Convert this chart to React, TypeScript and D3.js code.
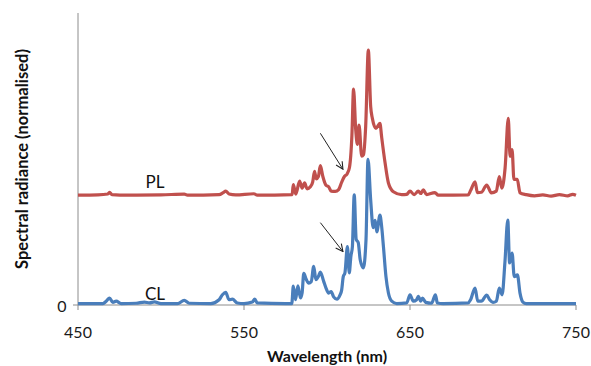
import React from "react";
import * as d3 from "d3";

// Wavelength (nm), normalised spectral radiance — cathodoluminescence (CL)
const CL: [number, number][] = [
  [450, 0.005], [465, 0.005], [467, 0.013], [469, 0.024], [471, 0.009], [473, 0.013], [476, 0.005],
  [485, 0.006], [490, 0.01], [493, 0.007], [496, 0.011], [500, 0.005], [510, 0.005], [514, 0.016],
  [517, 0.006], [530, 0.005], [535, 0.018], [537, 0.035], [539, 0.043], [541, 0.018], [543, 0.02],
  [546, 0.007], [550, 0.005], [555, 0.01], [556.5, 0.02], [558, 0.007], [575, 0.005], [578.8, 0.005],
  [579.7, 0.065], [581, 0.018], [582.5, 0.066], [584, 0.024], [585, 0.041], [586, 0.108], [587.4, 0.089],
  [589, 0.075], [590.5, 0.08], [592, 0.132], [593.3, 0.087], [595, 0.1], [596, 0.113], [598, 0.081],
  [599.4, 0.058], [601, 0.041], [602.5, 0.046], [604, 0.028], [606, 0.02], [607.8, 0.034], [608.8, 0.05],
  [609.8, 0.097], [610.8, 0.11], [612.3, 0.2], [613.4, 0.11], [614.4, 0.167], [615.3, 0.2], [616.4, 0.377],
  [617.6, 0.224], [618.8, 0.214], [620, 0.155], [621.9, 0.127], [623.5, 0.224], [624.7, 0.499],
  [626.3, 0.361], [627.8, 0.265], [629, 0.29], [630, 0.25], [631.9, 0.308], [632.9, 0.27], [634, 0.2],
  [635.5, 0.098], [637, 0.041], [639, 0.013], [642, 0.005], [648, 0.007], [650, 0.035], [652, 0.013],
  [654, 0.018], [655, 0.03], [656.5, 0.013], [657.5, 0.024], [659.5, 0.009], [663, 0.006], [665.3, 0.035],
  [666.5, 0.007], [670, 0.005], [685, 0.007], [686.5, 0.018], [689.2, 0.058], [690.8, 0.013], [693, 0.013],
  [696.2, 0.034], [698, 0.018], [700, 0.009], [702, 0.013], [703.8, 0.058], [705.5, 0.035], [707.2, 0.148],
  [708.9, 0.291], [710, 0.144], [711.5, 0.178], [712.8, 0.097], [714.7, 0.103], [716.3, 0.04], [718, 0.01],
  [720, 0.005], [750, 0.005],
];

// Photoluminescence (PL), drawn offset above CL
const PL: [number, number][] = [
  [450, 0.376], [462, 0.377], [468, 0.38], [469, 0.386], [470.5, 0.378], [480, 0.376], [500, 0.377],
  [514, 0.38], [516, 0.376], [535, 0.378], [537.5, 0.385], [539, 0.39], [541, 0.38], [545, 0.377],
  [556, 0.381], [558, 0.376], [579, 0.378], [579.7, 0.412], [581.2, 0.38], [583.5, 0.424], [585, 0.4],
  [586.5, 0.418], [588, 0.398], [590, 0.405], [591.4, 0.422], [592.5, 0.458], [593.5, 0.432],
  [594.8, 0.44], [596, 0.477], [597.5, 0.44], [599.4, 0.41], [601, 0.405], [602.5, 0.39], [605, 0.389],
  [607, 0.395], [608.8, 0.42], [610.5, 0.44], [612, 0.448], [613.5, 0.47], [615, 0.58], [616, 0.739],
  [617.3, 0.6], [618.3, 0.55], [619.3, 0.616], [620.9, 0.51], [622, 0.515], [623.3, 0.612],
  [624.9, 0.873], [626.3, 0.68], [627.3, 0.64], [629.5, 0.605], [631.9, 0.622], [632.9, 0.576],
  [635, 0.486], [637, 0.418], [640, 0.388], [645, 0.378], [648, 0.379], [650, 0.39], [652.5, 0.378],
  [655, 0.39], [656.5, 0.382], [658, 0.394], [660, 0.378], [665, 0.385], [667, 0.376], [685, 0.377],
  [686.5, 0.392], [689.2, 0.422], [690.6, 0.385], [693, 0.386], [696.2, 0.411], [699, 0.384],
  [702, 0.39], [703.8, 0.44], [705.3, 0.4], [707.3, 0.47], [709.2, 0.639], [710.3, 0.509],
  [711.5, 0.532], [712.6, 0.43], [714.6, 0.43], [716.3, 0.384], [720, 0.378], [725, 0.374],
  [730, 0.377], [735, 0.373], [740, 0.378], [745, 0.374], [748, 0.379], [750, 0.376],
];

const X_TICKS = [450, 550, 650, 750];
const Y_TICKS = [0];
const SERIES_LABELS = [
  { text: "PL", wl: 496.4, v: 0.423 },
  { text: "CL", wl: 496.4, v: 0.041 },
];
const ARROWS = [
  { from: [596, 0.588], to: [609.6, 0.465] },
  { from: [596, 0.282], to: [609.6, 0.183] },
];

const W = 591;
const H = 366;
const FONT = "Lato, 'Open Sans', sans-serif";

export default function App() {
  const x = d3.scaleLinear().domain([450, 750]).range([78, 576]);
  const y = d3.scaleLinear().domain([0, 1]).range([305, 13]);
  const line = d3
    .line<[number, number]>()
    .x((d) => x(d[0]))
    .y((d) => y(d[1]))
    .curve(d3.curveMonotoneX);

  const axisColor = "#8c8c8c";
  return (
    <svg
      width={W}
      height={H}
      style={{ position: "absolute", left: 0, top: 0, background: "#fff" }}
    >
      <defs>
        <marker
          id="arr"
          viewBox="0 0 10 10"
          refX="9"
          refY="5"
          markerWidth="9"
          markerHeight="9"
          markerUnits="userSpaceOnUse"
          orient="auto"
        >
          <path d="M1,1 L9,5 L1,9" fill="none" stroke="#222" strokeWidth={1.2} />
        </marker>
      </defs>
      <rect width={W} height={H} fill="#fff" />
      {/* axes */}
      <line x1={x(450)} x2={x(450)} y1={y(1)} y2={y(0)} stroke={axisColor} strokeWidth={1} />
      <line x1={x(450)} x2={x(750)} y1={y(0)} y2={y(0)} stroke={axisColor} strokeWidth={1} />
      {X_TICKS.map((t) => (
        <g key={t}>
          <line x1={x(t)} x2={x(t)} y1={y(0)} y2={y(0) + 5} stroke={axisColor} />
          <text
            x={x(t)}
            y={331}
            textAnchor="middle"
            dominantBaseline="central"
            fontFamily={FONT}
            fontSize={16}
            fill="#1a1a1a"
          >
            {t}
          </text>
        </g>
      ))}
      {Y_TICKS.map((t) => (
        <g key={t}>
          <line x1={x(450) - 5} x2={x(450)} y1={y(t)} y2={y(t)} stroke={axisColor} />
          <text
            x={x(450) - 16}
            y={y(t)}
            textAnchor="middle"
            dominantBaseline="central"
            fontFamily={FONT}
            fontSize={16}
            fill="#1a1a1a"
          >
            {t}
          </text>
        </g>
      ))}
      {/* series */}
      <path d={line(PL) || ""} fill="none" stroke="#c0504d" strokeWidth={3.2} strokeLinejoin="round" />
      <path d={line(CL) || ""} fill="none" stroke="#4a7ebb" strokeWidth={3.2} strokeLinejoin="round" />
      {SERIES_LABELS.map((l) => (
        <text
          key={l.text}
          x={x(l.wl)}
          y={y(l.v)}
          textAnchor="middle"
          dominantBaseline="central"
          fontFamily={FONT}
          fontSize={17}
          fill="#111"
        >
          {l.text}
        </text>
      ))}
      {ARROWS.map((a, i) => (
        <line
          key={i}
          x1={x(a.from[0])}
          y1={y(a.from[1])}
          x2={x(a.to[0])}
          y2={y(a.to[1])}
          stroke="#222"
          strokeWidth={1}
          markerEnd="url(#arr)"
        />
      ))}
      {/* axis titles */}
      <text
        x={327}
        y={355}
        textAnchor="middle"
        dominantBaseline="central"
        fontFamily={FONT}
        fontWeight="bold"
        fontSize={16}
        fill="#111"
      >
        Wavelength (nm)
      </text>
      <text
        transform="translate(22,159) rotate(-90)"
        textAnchor="middle"
        dominantBaseline="central"
        fontFamily={FONT}
        fontWeight="bold"
        fontSize={16.5}
        fill="#111"
      >
        Spectral radiance (normalised)
      </text>
    </svg>
  );
}
